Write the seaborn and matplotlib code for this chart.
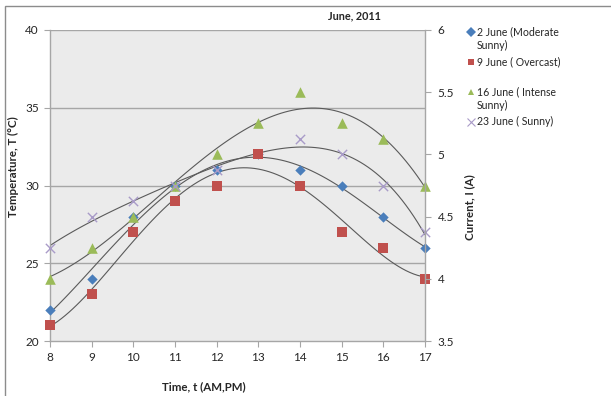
import numpy as np
import pandas as pd
import matplotlib
matplotlib.use("Agg")
import matplotlib.pyplot as plt
from matplotlib.lines import Line2D
from matplotlib.patches import Rectangle
import seaborn as sns

# values (no 23 June reading visible at 13h)
hours = [8, 9, 10, 11, 12, 13, 14, 15, 16, 17]
june_2 = [22, 24, 28, 30, 31, 32, 31, 30, 28, 26]
june_9 = [21, 23, 27, 29, 30, 32, 30, 27, 26, 24]
june_16 = [24, 26, 28, 30, 32, 34, 36, 34, 33, 30]
june_23 = [26, 28, 29, 30, 31, np.nan, 33, 32, 30, 27]

series_names = ["2 June (Moderate\nSunny)", "9 June ( Overcast)",
                "16 June ( Intense\nSunny)", "23 June ( Sunny)"]
current_ticks = [3.5, 4, 4.5, 5, 5.5, 6]
current_labels = ["3.5", "4", "4.5", "5", "5.5", "6"]

styles = [
    dict(marker="D", color="#4A7EBB", s=28),
    dict(marker="s", color="#C0504D", s=62),
    dict(marker="^", color="#9BBB59", s=58),
    dict(marker="x", color="#A99BC8", s=45),
]

sns.set_theme(style="white")
plt.rcParams["font.family"] = ["Lato", "DejaVu Sans"]

df = pd.DataFrame({"hour": hours, series_names[0]: june_2, series_names[1]: june_9,
                   series_names[2]: june_16, series_names[3]: june_23})

fig = plt.figure(figsize=(6.11, 3.96), dpi=100)
ax = fig.add_axes([50 / 611, 1 - 341 / 396, 375 / 611, 311 / 396])
ax.set_facecolor("#EBEBEB")

grid_c = "#A6A6A6"
txt_c = "#262626"
# polynomial trendlines, as in the original Excel chart
for name in series_names:
    sns.regplot(data=df, x="hour", y=name, order=4, ci=None, scatter=False,
                truncate=True, ax=ax, line_kws=dict(color="#5A5A5A", lw=0.8))
for name, st in zip(series_names, styles):
    is_x = st["marker"] == "x"
    sns.scatterplot(data=df, x="hour", y=name, marker=st["marker"], color=st["color"],
                    s=st["s"], linewidth=1.0 if is_x else 0,
                    edgecolor=None if is_x else st["color"],
                    ax=ax, zorder=3, clip_on=False)

ax.set_xlim(8, 17)
ax.set_ylim(20, 40)
ax.set_xticks(hours)
ax.set_yticks([20, 25, 30, 35, 40])
for yv in [25, 30, 35, 40]:
    ax.axhline(yv, color=grid_c, lw=1.0, zorder=0)
for sp in ["top", "right"]:
    ax.spines[sp].set_visible(False)
for sp in ["left", "bottom"]:
    ax.spines[sp].set_color(grid_c)
    ax.spines[sp].set_linewidth(1.0)
ax.tick_params(axis="both", which="both", direction="out", length=4, width=0.8,
               color=grid_c, labelsize=8.5, labelcolor=txt_c, pad=4,
               left=True, bottom=True)
ax.set_xlabel("Time, t (AM,PM)", fontsize=8.3, fontweight="bold", color=txt_c,
              va="center")
ax.set_ylabel("Temperature, T (\u00b0C)", fontsize=8.3, fontweight="bold", color=txt_c,
              va="center")
ax.xaxis.set_label_coords((204 - 50) / 375, (341 - 387) / 311)
ax.yaxis.set_label_coords((13 - 50) / 375, (341 - 167) / 311)

ax2 = ax.twinx()
ax2.set_ylim(3.5, 6)
ax2.set_yticks(current_ticks)
ax2.set_yticklabels(current_labels)
for sp in ["top", "left", "bottom"]:
    ax2.spines[sp].set_visible(False)
ax2.spines["right"].set_color(grid_c)
ax2.spines["right"].set_linewidth(1.0)
ax2.tick_params(axis="y", direction="out", length=4, width=0.8, color=grid_c,
                labelsize=8.5, labelcolor=txt_c, pad=5, right=True)
ax2.set_ylabel("Current, I (A)", fontsize=8.3, fontweight="bold", color=txt_c,
               va="center")
ax2.yaxis.set_label_coords((470 - 50) / 375, (341 - 207) / 311)
ax2.grid(False)

fig.text(354 / 611, 1 - 16 / 396, "June, 2011", ha="center", va="center",
         fontsize=7.8, fontweight="bold", color=txt_c)

# legend drawn by hand to keep Excel-like spacing
for i, (name, st) in enumerate(zip(series_names, styles)):
    y = 1 - (32 + i * 30) / 396
    is_x = st["marker"] == "x"
    fig.add_artist(Line2D([471 / 611], [y], transform=fig.transFigure,
                          marker=st["marker"], color=st["color"], linestyle="none",
                          markersize=6 if is_x else 5,
                          markeredgewidth=0.8 if is_x else 0))
    fig.text(477 / 611, y + 6 / 396, name, ha="left", va="top", fontsize=7.6,
             color=txt_c, linespacing=1.3)

fig.add_artist(Rectangle((5 / 611, -0.1), 1.2, 1.1 - 6 / 396, transform=fig.transFigure,
                         fill=False, edgecolor="#8C8C8C", lw=1.0))

fig.savefig("out.png", dpi=100)
